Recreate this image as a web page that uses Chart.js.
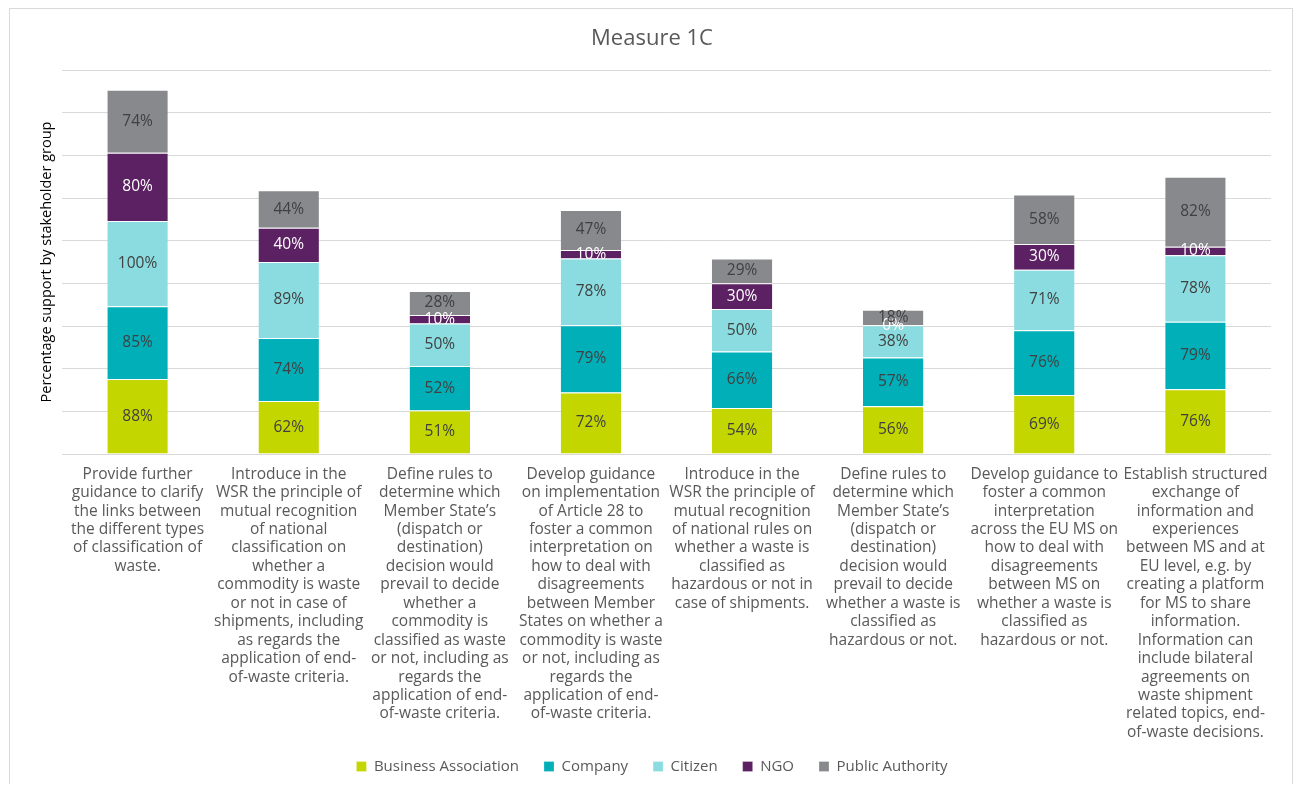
<!DOCTYPE html>
<html>
<head>
<meta charset="utf-8">
<script src="https://cdn.jsdelivr.net/npm/chart.js@4.4.1/dist/chart.umd.min.js"></script>
<style>
  html, body { margin: 0; padding: 0; background: #fff; overflow: hidden; }
  #wrap { position: absolute; left: 0; top: 0; width: 1298px; height: 787px; }
</style>
</head>
<body>
<div id="wrap"><canvas id="c" width="1298" height="784"></canvas></div>
<script>
const categories = [
  ["Provide further","guidance to clarify","the links between","the different types","of classification of","waste."],
  ["Introduce in the","WSR the principle of","mutual recognition","of national","classification on","whether a","commodity is waste","or not in case of","shipments, including","as regards the","application of end-","of-waste criteria."],
  ["Define rules to","determine which","Member State’s","(dispatch or","destination)","decision would","prevail to decide","whether a","commodity is","classified as waste","or not, including as","regards the","application of end-","of-waste criteria."],
  ["Develop guidance","on implementation","of Article 28 to","foster a common","interpretation on","how to deal with","disagreements","between Member","States on whether a","commodity is waste","or not, including as","regards the","application of end-","of-waste criteria."],
  ["Introduce in the","WSR the principle of","mutual recognition","of national rules on","whether a waste is","classified as","hazardous or not in","case of shipments."],
  ["Define rules to","determine which","Member State’s","(dispatch or","destination)","decision would","prevail to decide","whether a waste is","classified as","hazardous or not."],
  ["Develop guidance to","foster a common","interpretation","across the EU MS on","how to deal with","disagreements","between MS on","whether a waste is","classified as","hazardous or not."],
  ["Establish structured","exchange of","information and","experiences","between MS and at","EU level, e.g. by","creating a platform","for MS to share","information.","Information can","include bilateral","agreements on","waste shipment","related topics, end-","of-waste decisions."]
];
const businessAssociation = [88, 62, 51, 72, 54, 56, 69, 76];
const company            = [85, 74, 52, 79, 66, 57, 76, 79];
const citizen            = [100, 89, 50, 78, 50, 38, 71, 78];
const ngo                = [80, 40, 10, 10, 30, 0, 30, 10];
const publicAuthority    = [74, 44, 28, 47, 29, 18, 58, 82];
const seriesNames = ["Business Association", "Company", "Citizen", "NGO", "Public Authority"];
const chartTitle = "Measure 1C";
const yAxisTitle = "Percentage support by stakeholder group";

const FONT = "'Open Sans', 'DejaVu Sans', sans-serif";
const colors = ["#C4D600", "#00AFB8", "#8ADCE0", "#5C2163", "#87898C"];
const labelColors = ["#404040", "#404040", "#404040", "#ffffff", "#404040"];
const seriesData = [businessAssociation, company, citizen, ngo, publicAuthority];

const frame = {
  id: 'frame',
  afterLayout(chart) {
    // let the wrapped category labels extend below the axis box without clipping
    chart.scales.x.bottom = chart.height;
  },
  beforeDraw(chart) {
    const ctx = chart.ctx;
    ctx.save();
    ctx.fillStyle = '#fff';
    ctx.fillRect(0, 0, chart.width, chart.height);
    ctx.strokeStyle = '#D9D9D9';
    ctx.lineWidth = 1;
    ctx.strokeRect(9.5, 8.5, 1283, 820);
    ctx.restore();
  }
};

const valueLabels = {
  id: 'valueLabels',
  afterDatasetsDraw(chart) {
    const ctx = chart.ctx;
    ctx.save();
    ctx.font = "15.5px " + FONT;
    ctx.textAlign = 'center';
    ctx.textBaseline = 'middle';
    chart.data.datasets.forEach((ds, i) => {
      const meta = chart.getDatasetMeta(i);
      meta.data.forEach((el, j) => {
        const v = ds.data[j];
        const y = (el.y + el.base) / 2;
        ctx.fillStyle = labelColors[i];
        ctx.fillText(v + '%', el.x, y);
      });
    });
    ctx.restore();
  }
};

new Chart(document.getElementById('c'), {
  type: 'bar',
  data: {
    labels: categories,
    datasets: seriesNames.map((n, i) => ({
      label: n,
      data: seriesData[i],
      backgroundColor: colors[i],
      borderColor: '#ffffff',
      borderWidth: {top: 1, left: 0, right: 0, bottom: 0},
      borderSkipped: false,
      categoryPercentage: 1.0,
      barPercentage: 0.4
    }))
  },
  options: {
    responsive: false,
    animation: false,
    layout: { padding: { left: 33, right: 27, top: 0, bottom: 0 } },
    plugins: {
      title: {
        display: true,
        text: chartTitle,
        color: '#595959',
        font: { family: FONT, size: 22, weight: 'normal', lineHeight: 1.2 },
        padding: { top: 25.5, bottom: 18.1 }
      },
      legend: {
        position: 'bottom',
        labels: {
          boxWidth: 10,
          boxHeight: 10,
          padding: 25,
          color: '#595959',
          font: { family: FONT, size: 15 }
        }
      },
      tooltip: { enabled: false }
    },
    scales: {
      x: {
        stacked: true,
        grid: { display: false, drawTicks: false },
        border: { display: false },
        ticks: {
          autoSkip: false,
          maxRotation: 0,
          minRotation: 0,
          padding: 11,
          color: '#595959',
          font: { family: FONT, size: 15.5, lineHeight: 1.19 }
        },
        afterFit(scale) { scale.height = 280; }
      },
      y: {
        stacked: true,
        min: 0,
        max: 450,
        ticks: { display: false, stepSize: 50 },
        grid: { color: '#D9D9D9', lineWidth: 1, drawTicks: false },
        border: { display: false },
        title: {
          display: true,
          text: yAxisTitle,
          color: '#000000',
          font: { family: FONT, size: 14.5 },
          padding: { top: 5.3, bottom: 0 }
        },
        afterFit(scale) { scale.width = 29; }
      }
    }
  },
  plugins: [frame, valueLabels]
});
</script>
</body>
</html>
